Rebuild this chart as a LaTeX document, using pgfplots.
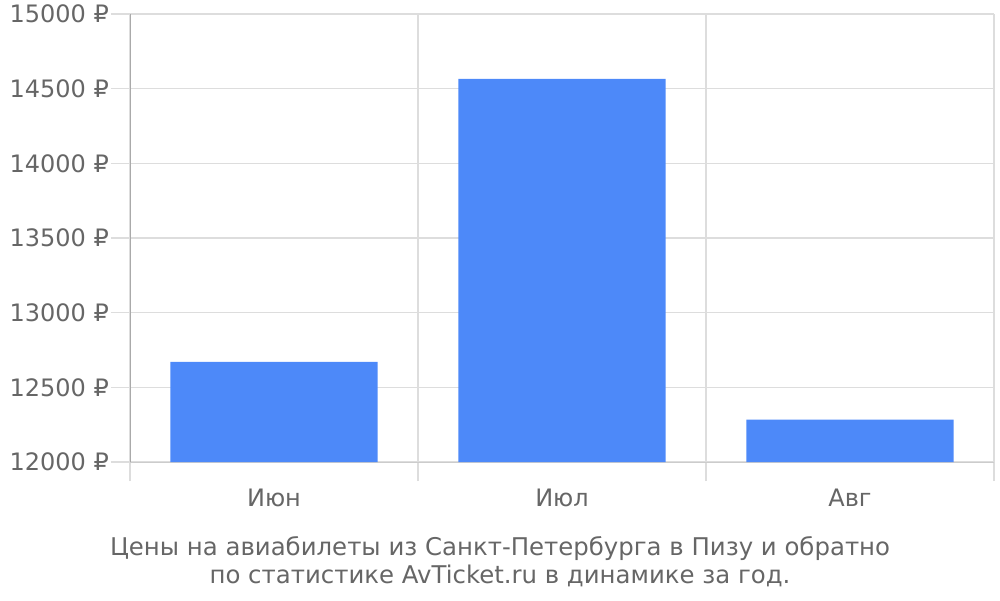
\documentclass[border=0pt]{standalone}
\usepackage{pgfplots}
\pgfplotsset{compat=1.18}
\usepackage{fontspec}
\setmainfont{DejaVu Sans}
\definecolor{barc}{HTML}{4D89F9}
\definecolor{lbl}{HTML}{666666}
\definecolor{grd}{HTML}{DDDDDD}
\definecolor{axx}{HTML}{CCCCCC}
\definecolor{axy}{HTML}{AAAAAA}
\begin{document}
\begin{tikzpicture}
\useasboundingbox (0,0) rectangle (500pt,300pt);
\begin{axis}[
 at={(65pt,69pt)}, anchor=south west,
 scale only axis, width=432pt, height=224pt,
 xmin=-0.5, xmax=2.5, ymin=12000, ymax=15000,
 ybar, bar width=0.72,
 axis lines*=left,
 x axis line style={draw=axx,-},
 y axis line style={draw=axy,-},
 scaled y ticks=false, scaled x ticks=false,
 xtick={-0.5,0.5,1.5,2.5}, xticklabels={},
 xmajorgrids,
 extra x ticks={0,1,2},
 extra x tick labels={Июн,Июл,Авг},
 extra x tick style={grid=none, major tick length=0pt, tick label style={yshift=-10pt}},
 ytick={12000,12500,...,15000},
 yticklabels={12000 ₽,12500 ₽,13000 ₽,13500 ₽,14000 ₽,14500 ₽,15000 ₽},
 yticklabel style={xshift=2.5pt},
 ymajorgrids,
 grid style={draw=grd, line width=0.6pt},
 tick align=outside,
 major tick length=9.5pt,
 tick style={draw=grd, line width=0.6pt},
 ticklabel style={font=\fontsize{12}{13}\selectfont, text=lbl},
]
\addplot[fill=barc, draw=none] coordinates {(0,12670) (1,14565) (2,12283)};
\end{axis}
\node[align=center, text=lbl, font=\fontsize{12.2}{14}\selectfont] at (250pt,19pt)
 {Цены на авиабилеты из Санкт-Петербурга в Пизу и обратно\\по статистике AvTicket.ru в динамике за год.};
\end{tikzpicture}
\end{document}
